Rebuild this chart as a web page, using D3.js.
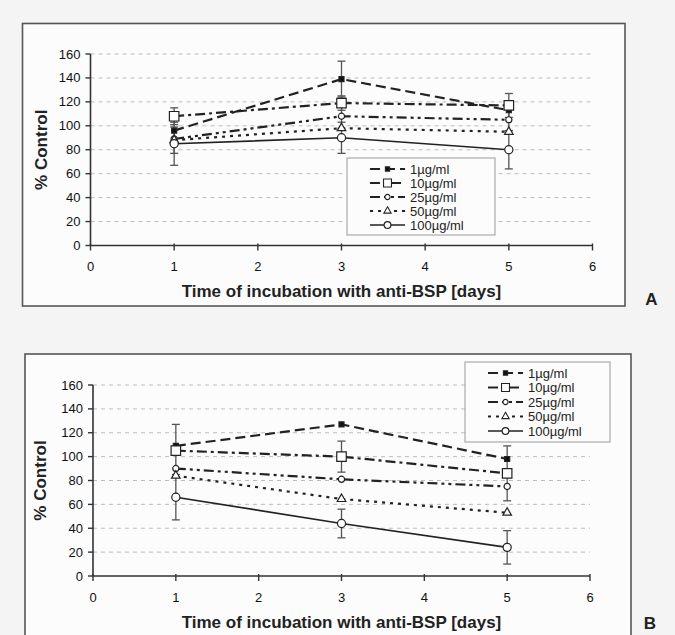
<!DOCTYPE html>
<html>
<head>
<meta charset="utf-8">
<script src="https://cdn.jsdelivr.net/npm/d3@7"></script>
<style>
  body { margin: 0; background: #f4f4f4; }
  text { font-family: "Liberation Sans", Arial, sans-serif; fill: #222; }
</style>
</head>
<body>
<div id="chart"></div>
<script>
// days on x, one row per dose
const days = [1, 3, 5];
const doses = ['1µg/ml', '10µg/ml', '25µg/ml', '50µg/ml', '100µg/ml'];
const xTicks = [0, 1, 2, 3, 4, 5, 6];
const yTicks = [0, 20, 40, 60, 80, 100, 120, 140, 160];

// panel A
const valuesA = [
  [96, 139, 113],
  [108, 119, 117],
  [89, 108, 105],
  [88, 98, 95],
  [85, 90, 80]
];
const errorsA = [
  [null, 15, null],
  [7, 6, 10],
  [null, 10, 9],
  [11, null, null],
  [18, 13, 16]
];

// panel B
const valuesB = [
  [109, 127, 98],
  [105, 100, 86],
  [90, 81, 75],
  [84, 64.5, 53],
  [66, 44, 24]
];
const errorsB = [
  [null, null, null],
  [22, 13, 23],
  [null, null, null],
  [null, null, null],
  [19, 12, 14]
];

const width = 675;
const height = 635;

const dashes = ['10,5', '10,4,3,4', '10,4,3,4,3,4', '3,5', null];
const symbols = [
  {type: d3.symbolSquare, size: 25, fill: '#111'},
  {type: d3.symbolSquare, size: 90, fill: '#fff'},
  {type: d3.symbolCircle, size: 30, fill: '#fff'},
  {type: d3.symbolTriangle, size: 32, fill: '#fff'},
  {type: d3.symbolCircle, size: 52, fill: '#fff'}
];

const svg = d3.select('#chart').append('svg')
  .attr('width', width)
  .attr('height', height);

function drawPanel(p) {
  const x = d3.scaleLinear().domain([0, 6]).range(p.xr);
  const y = d3.scaleLinear().domain([0, 160]).range(p.yr);
  const g = svg.append('g');

  g.append('rect')
    .attr('x', p.frame[0]).attr('y', p.frame[1])
    .attr('width', p.frame[2]).attr('height', p.frame[3])
    .attr('fill', '#fcfcfc')
    .attr('stroke', '#555')
    .attr('stroke-width', 1.6);

  // gridlines
  g.selectAll('.grid')
    .data(yTicks.filter(d => d > 0))
    .enter().append('line')
    .attr('x1', x(0)).attr('x2', x(6))
    .attr('y1', d => y(d)).attr('y2', d => y(d))
    .attr('stroke', '#bdbdbd')
    .attr('stroke-width', 1)
    .attr('stroke-dasharray', '4,4');

  // y axis
  g.append('line')
    .attr('x1', x(0)).attr('x2', x(0))
    .attr('y1', y(0)).attr('y2', y(160))
    .attr('stroke', '#333').attr('stroke-width', 1.6);
  g.selectAll('.ytick')
    .data(yTicks)
    .enter().append('line')
    .attr('x1', x(0) - 5).attr('x2', x(0))
    .attr('y1', d => y(d)).attr('y2', d => y(d))
    .attr('stroke', '#333').attr('stroke-width', 1.4);
  g.selectAll('.ylab')
    .data(yTicks)
    .enter().append('text')
    .attr('x', x(0) - 10)
    .attr('y', d => y(d))
    .attr('dy', '0.35em')
    .attr('text-anchor', 'end')
    .style('font-size', '13px')
    .style('fill', '#111')
    .text(d => d);

  // x axis
  g.append('line')
    .attr('x1', x(0)).attr('x2', x(6))
    .attr('y1', y(0)).attr('y2', y(0))
    .attr('stroke', '#333').attr('stroke-width', 1.6);
  g.selectAll('.xtick')
    .data(xTicks)
    .enter().append('line')
    .attr('x1', d => x(d)).attr('x2', d => x(d))
    .attr('y1', y(0) - 2).attr('y2', y(0) + 5)
    .attr('stroke', '#333').attr('stroke-width', 1.4);
  g.selectAll('.xlab')
    .data(xTicks)
    .enter().append('text')
    .attr('x', d => x(d))
    .attr('y', y(0) + 21)
    .attr('dy', '0.35em')
    .attr('text-anchor', 'middle')
    .style('font-size', '13px')
    .style('fill', '#111')
    .text(d => d);

  g.append('text')
    .attr('x', (p.xr[0] + p.xr[1]) / 2)
    .attr('y', y(0) + 46)
    .attr('dy', '0.35em')
    .attr('text-anchor', 'middle')
    .style('font-size', '17px')
    .style('font-weight', 'bold')
    .text('Time of incubation with anti-BSP [days]');

  g.append('text')
    .attr('transform', `translate(${p.titleX},${(p.yr[0] + p.yr[1]) / 2}) rotate(-90)`)
    .attr('dy', '0.35em')
    .attr('text-anchor', 'middle')
    .style('font-size', '17px')
    .style('font-weight', 'bold')
    .text('% Control');

  // error bars
  p.errors.forEach((row, i) => {
    row.forEach((e, j) => {
      if (e == null) return;
      const v = p.values[i][j];
      const cx = x(days[j]);
      g.append('line')
        .attr('x1', cx).attr('x2', cx)
        .attr('y1', y(v + e)).attr('y2', y(v - e))
        .attr('stroke', '#555').attr('stroke-width', 1.3);
      [v + e, v - e].forEach(c => {
        g.append('line')
          .attr('x1', cx - 4).attr('x2', cx + 4)
          .attr('y1', y(c)).attr('y2', y(c))
          .attr('stroke', '#555').attr('stroke-width', 1.3);
      });
    });
  });

  const line = d3.line()
    .x((d, j) => x(days[j]))
    .y(d => y(d));

  p.values.forEach((row, i) => {
    g.append('path')
      .datum(row)
      .attr('d', line)
      .attr('fill', 'none')
      .attr('stroke', '#222')
      .attr('stroke-width', i === 4 ? 1.6 : 2.2)
      .attr('stroke-dasharray', dashes[i]);
  });

  p.values.forEach((row, i) => {
    const s = symbols[i];
    g.selectAll(null)
      .data(row)
      .enter().append('path')
      .attr('transform', (d, j) => `translate(${x(days[j])},${y(d)})`)
      .attr('d', d3.symbol().type(s.type).size(s.size))
      .attr('fill', s.fill)
      .attr('stroke', '#222')
      .attr('stroke-width', 1.2);
  });

  // legend
  const L = p.legend;
  const lg = g.append('g');
  lg.append('rect')
    .attr('x', L.x).attr('y', L.y)
    .attr('width', L.w).attr('height', L.h)
    .attr('fill', '#fcfcfc')
    .attr('stroke', '#aaa')
    .attr('stroke-width', 1.2);
  doses.forEach((name, i) => {
    const ry = L.y + L.first + i * L.row;
    const sx = L.x + 23;
    lg.append('line')
      .attr('x1', sx).attr('x2', sx + 35)
      .attr('y1', ry).attr('y2', ry)
      .attr('stroke', '#222')
      .attr('stroke-width', i === 4 ? 1.6 : 2)
      .attr('stroke-dasharray', dashes[i]);
    lg.append('path')
      .attr('transform', `translate(${sx + 17.5},${ry})`)
      .attr('d', d3.symbol().type(symbols[i].type).size(symbols[i].size * 0.7))
      .attr('fill', symbols[i].fill)
      .attr('stroke', '#222')
      .attr('stroke-width', 1.1);
    lg.append('text')
      .attr('x', sx + 40)
      .attr('y', ry)
      .attr('dy', '0.35em')
      .style('font-size', '13px')
      .text(name);
  });

  g.append('text')
    .attr('x', p.letter[0]).attr('y', p.letter[1])
    .attr('text-anchor', 'middle')
    .style('font-size', '17px')
    .style('font-weight', 'bold')
    .text(p.id);
}

drawPanel({
  id: 'A', values: valuesA, errors: errorsA,
  frame: [22.5, 23.5, 602.5, 282.5],
  xr: [90.5, 592.5], yr: [245.5, 54], titleX: 41.5,
  legend: {x: 347, y: 158, w: 148, h: 77, first: 11, row: 14},
  letter: [651.5, 305]
});

drawPanel({
  id: 'B', values: valuesB, errors: errorsB,
  frame: [25, 354, 606, 290],
  xr: [93, 590], yr: [576, 385], titleX: 40,
  legend: {x: 465, y: 362, w: 145, h: 80, first: 11, row: 14.5},
  letter: [650, 629]
});
</script>
</body>
</html>
